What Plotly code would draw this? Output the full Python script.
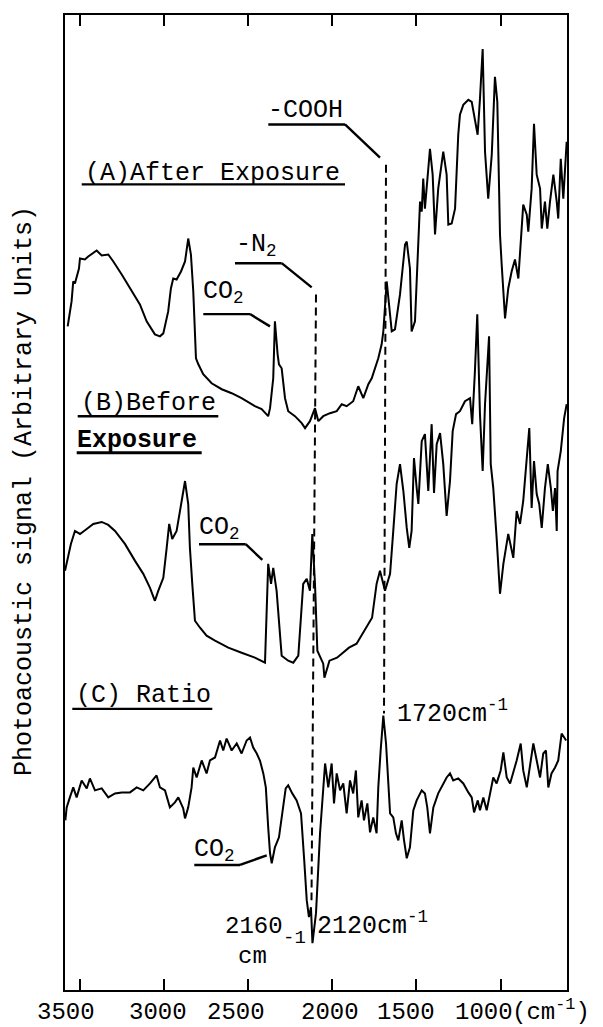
import plotly.graph_objects as go

# ---------------- data (wavenumber in cm^-1, signal in arbitrary units) ----------------
wn_a = [3571, 3548, 3538, 3528, 3504, 3498, 3469, 3449, 3399, 3369, 3330, 3300, 3250, 3191, 3142,
        3102, 3053, 3023, 3003, 2974, 2958, 2944, 2924, 2898, 2874, 2855, 2839, 2825, 2815, 2809,
        2795, 2766, 2716, 2656, 2597, 2538, 2459, 2419, 2380, 2369, 2350, 2340, 2324, 2316, 2300,
        2280, 2261, 2221, 2181, 2161, 2132, 2102, 2082, 2053, 2013, 1973, 1943, 1914, 1875, 1845,
        1815, 1785, 1765, 1746, 1726, 1706, 1696, 1676, 1646, 1627, 1597, 1567, 1557, 1538, 1528,
        1508, 1488, 1478, 1468, 1459, 1449, 1439, 1419, 1403, 1389, 1370, 1349, 1340, 1320, 1310,
        1290, 1270, 1251, 1241, 1221, 1191, 1171, 1152, 1136, 1122, 1106, 1092, 1073, 1052, 1033,
        1019, 1003, 993, 973, 954, 934, 914, 894, 865, 844, 835, 815, 801, 785, 765, 755, 736,
        722, 706, 686, 666, 657, 642, 627, 607]
sig_a = [66.5, 69.0, 71.0, 70.8, 72.3, 73.3, 73.2, 73.5, 74.1, 73.6, 73.7, 73.0, 71.7, 70.0, 68.7,
         67.0, 65.7, 65.5, 65.8, 68.0, 70.3, 71.3, 71.2, 72.0, 73.0, 75.3, 73.7, 70.0, 65.7, 63.3,
         62.7, 61.7, 60.8, 60.2, 59.8, 59.3, 58.5, 58.2, 57.5, 58.3, 61.3, 67.0, 63.7, 62.7, 62.3,
         59.3, 58.0, 57.5, 56.8, 56.3, 57.0, 58.3, 57.0, 57.5, 57.8, 58.0, 58.7, 58.5, 59.0, 60.5,
         59.3, 60.7, 61.3, 62.2, 63.3, 64.7, 66.0, 71.0, 66.0, 66.2, 69.7, 74.7, 75.0, 72.3, 66.0,
         67.0, 75.7, 79.0, 78.0, 81.3, 78.3, 80.3, 84.3, 81.7, 75.7, 80.3, 83.0, 84.0, 81.7, 76.7,
         76.8, 78.3, 85.7, 87.7, 88.7, 89.2, 89.0, 87.3, 85.7, 89.3, 94.3, 84.0, 79.3, 83.7, 91.5,
         89.0, 75.7, 72.7, 67.3, 70.3, 72.0, 73.2, 71.3, 78.7, 77.7, 76.0, 80.3, 86.8, 81.7, 80.3,
         76.3, 79.0, 76.3, 79.0, 81.7, 79.0, 77.3, 83.3, 79.3, 85.0]

wn_b = [3587, 3571, 3552, 3528, 3498, 3458, 3419, 3369, 3330, 3290, 3231, 3171, 3122, 3082, 3053,
        3033, 3003, 2983, 2968, 2950, 2924, 2894, 2874, 2855, 2845, 2831, 2815, 2785, 2746, 2696,
        2617, 2538, 2459, 2399, 2380, 2363, 2350, 2330, 2300, 2261, 2231, 2201, 2172, 2151, 2132,
        2118, 2102, 2088, 2053, 2046, 2016, 1971, 1900, 1855, 1811, 1763, 1736, 1716, 1686, 1656,
        1637, 1617, 1597, 1577, 1557, 1542, 1528, 1514, 1498, 1488, 1468, 1449, 1429, 1409, 1395,
        1379, 1359, 1340, 1320, 1300, 1284, 1264, 1241, 1211, 1181, 1168, 1152, 1138, 1122, 1106,
        1092, 1068, 1058, 1043, 1023, 1003, 983, 954, 924, 904, 884, 865, 844, 829, 815, 801,
        785, 770, 755, 736, 719, 701, 689, 676, 666, 661, 642, 622, 607]
sig_b = [42.0, 43.3, 44.7, 46.0, 45.7, 46.2, 46.7, 46.9, 46.6, 46.0, 44.7, 43.0, 41.7, 40.3, 39.0,
         40.0, 41.3, 44.3, 46.7, 45.2, 46.0, 49.0, 51.0, 48.7, 44.3, 40.7, 37.0, 36.3, 35.5, 35.0,
         34.3, 33.8, 33.3, 32.8, 42.7, 40.7, 42.3, 40.0, 33.5, 33.0, 32.8, 33.5, 40.7, 41.2, 40.0,
         45.7, 40.7, 34.0, 32.7, 31.3, 33.0, 33.3, 34.3, 34.7, 36.0, 37.3, 40.7, 42.0, 40.0, 41.7,
         46.0, 50.7, 52.7, 50.0, 46.3, 44.3, 46.0, 53.3, 50.3, 48.7, 55.0, 55.7, 50.0, 56.7, 49.8,
         54.7, 55.8, 52.7, 47.5, 51.0, 56.0, 57.7, 58.0, 59.0, 59.3, 56.7, 62.0, 67.7, 57.7, 52.0,
         58.7, 65.5, 52.7, 50.3, 45.3, 39.7, 42.7, 45.7, 43.3, 48.0, 46.7, 49.0, 53.3, 56.3, 48.3,
         53.0, 49.7, 48.7, 46.3, 50.3, 52.7, 50.3, 48.0, 50.3, 46.0, 52.0, 54.0, 57.3, 58.7]

wn_c = [3585, 3577, 3558, 3538, 3518, 3488, 3458, 3439, 3409, 3369, 3330, 3290, 3250, 3201, 3161,
        3122, 3082, 3043, 3023, 2993, 2964, 2934, 2914, 2885, 2874, 2855, 2835, 2825, 2805, 2775,
        2746, 2726, 2696, 2666, 2647, 2627, 2597, 2567, 2538, 2508, 2488, 2469, 2448, 2429, 2409,
        2394, 2380, 2369, 2359, 2340, 2316, 2296, 2276, 2261, 2237, 2211, 2185, 2166, 2151, 2138,
        2126, 2117, 2096, 2072, 2053, 2042, 2023, 2003, 1989, 1973, 1953, 1934, 1914, 1894, 1875,
        1859, 1845, 1825, 1811, 1791, 1775, 1756, 1736, 1726, 1712, 1696, 1680, 1666, 1656, 1637,
        1621, 1607, 1587, 1573, 1557, 1538, 1518, 1498, 1468, 1449, 1435, 1419, 1399, 1370, 1340,
        1320, 1300, 1281, 1251, 1221, 1191, 1171, 1157, 1135, 1122, 1102, 1082, 1062, 1043, 1023,
        999, 983, 963, 943, 920, 904, 880, 865, 844, 825, 805, 785, 765, 746, 730, 716, 697, 676,
        657, 637, 610]
sig_c = [17.0, 18.3, 19.3, 20.3, 19.3, 21.0, 20.2, 21.2, 20.0, 20.2, 19.3, 19.7, 19.8, 19.8, 20.3,
         20.0, 20.7, 21.5, 20.3, 20.0, 18.3, 18.8, 19.3, 18.2, 17.2, 18.3, 20.3, 22.3, 21.3, 23.0,
         21.7, 23.0, 23.3, 25.0, 24.0, 25.2, 24.0, 24.7, 23.7, 25.0, 25.3, 24.3, 23.7, 23.0, 21.7,
         20.3, 16.3, 13.7, 12.7, 14.3, 15.3, 17.7, 20.2, 20.5, 19.7, 19.0, 17.7, 13.0, 9.0, 7.3,
         8.3, 4.7, 7.7, 15.7, 19.7, 22.7, 20.3, 22.7, 18.7, 21.7, 20.0, 20.7, 17.7, 21.0, 19.7,
         22.0, 17.3, 19.0, 17.0, 18.7, 15.8, 17.3, 15.7, 20.3, 24.0, 27.5, 24.7, 20.3, 17.7, 17.3,
         15.7, 15.0, 17.0, 15.0, 13.2, 14.3, 18.0, 19.0, 20.0, 19.7, 18.3, 15.7, 18.3, 19.7, 20.7,
         21.3, 21.7, 21.0, 21.2, 20.7, 19.8, 19.3, 17.8, 19.0, 18.0, 19.3, 18.0, 19.7, 21.3, 20.7,
         22.0, 23.8, 21.3, 20.7, 22.0, 23.0, 24.7, 22.0, 20.3, 22.3, 24.7, 23.0, 21.3, 23.7, 24.0,
         20.3, 21.7, 22.3, 23.0, 25.7, 25.0]

tick_values = [3500, 3000, 2500, 2000, 1500, 1000]
tick_labels = ["3500", "3000", "2500", "2000", "1500", "1000"]

# ---------------- layout geometry (page pixels; the page body adds an 8 px margin) ----------------
PAGE_W, PAGE_H = 603, 1027
OFF = 8
W, H = PAGE_W - OFF, PAGE_H - OFF
PLOT_L, PLOT_R, PLOT_T, PLOT_B = 65, 567, 13, 990     # frame edges on the page
L, T = PLOT_L - OFF, PLOT_T - OFF
R, B = W - (PLOT_R - OFF), H - (PLOT_B - OFF)
PW, PH = PLOT_R - PLOT_L, PLOT_B - PLOT_T
X_RANGE = [3587, 605]
Y_RANGE = [0, 97.7]

MONO = "Liberation Mono"


def px(x):
    return (x - PLOT_L) / PW


def py(y):
    return (PLOT_B - y) / PH


fig = go.Figure()
for wn, sig in [(wn_a, sig_a), (wn_b, sig_b), (wn_c, sig_c)]:
    fig.add_trace(go.Scatter(x=wn, y=sig, mode="lines",
                             line=dict(color="black", width=2),
                             hoverinfo="skip", showlegend=False))

shapes = []


def seg(x0, y0, x1, y1, width=2.4, dash="solid"):
    shapes.append(dict(type="line", xref="paper", yref="paper",
                       x0=px(x0), y0=py(y0), x1=px(x1), y1=py(y1),
                       line=dict(color="black", width=width, dash=dash)))


# underlines and leader lines
seg(81.7, 182.7, 345, 182.7)                      # (A) After Exposure
seg(268.3, 122.7, 345, 122.7); seg(345, 122.7, 380, 156)     # -COOH
seg(235, 261.7, 281.7, 261.7); seg(281.7, 261.7, 311.7, 286)  # -N2
seg(203.3, 312.7, 250, 312.7); seg(250, 312.7, 270, 325)     # CO2 (A)
seg(77.7, 415, 218.3, 415)                         # (B) Before
seg(76.7, 451.7, 201.7, 451.7, width=3)            # Exposure
seg(199, 543.3, 245.7, 543.3); seg(245.7, 543.3, 262.3, 559)  # CO2 (B)
seg(72.3, 708.3, 212.3, 708.3)                     # (C) Ratio
seg(194.3, 864.7, 240, 864.7); seg(240, 864.7, 266.7, 855)   # CO2 (C)
# dashed guides
seg(386, 163, 384, 713, width=2, dash="8px,5px")
seg(316, 293, 311.5, 900, width=2, dash="8px,5px")

annotations = []


def label(text, x, y, size=25, anchor="left"):
    annotations.append(dict(text=text, xref="paper", yref="paper", x=px(x), y=py(y),
                            xanchor=anchor, yanchor="middle", showarrow=False,
                            font=dict(family=MONO, size=size, color="black")))


label("(A)After Exposure", 83, 172)
label("-COOH", 266, 109)
label("-N<sub>2</sub>", 234, 244)
label("CO<sub>2</sub>", 201, 291)
label("(B)Before", 79, 402)
label("<b>Exposure</b>", 75, 439)
label("CO<sub>2</sub>", 197, 528)
label("(C) Ratio", 74, 695)
label("CO<sub>2</sub>", 192, 850)
label("1720cm<sup>-1</sup>", 395, 711)
label("2120cm<sup>-1</sup>", 315, 924)
label("2160", 223, 926, size=24)
label("cm", 236, 956, size=24)
label("-1", 281, 938, size=19)

# axis tick labels (placed under the ticks, nudged as in the original)
label_shift = [-14, -6, -12, -2, -10, -17]
for v, t, s in zip(tick_values, tick_labels, label_shift):
    annotations.append(dict(text=t, xref="x", yref="paper", x=v, y=py(1013),
                            xshift=s, xanchor="center", yanchor="middle", showarrow=False,
                            font=dict(family=MONO, size=24, color="black")))
label("(cm<sup>-1</sup>)", 510, 1011, size=24)

# y-axis title
annotations.append(dict(text="Photoacoustic signal (Arbitrary Units)", xref="paper", yref="paper",
                        x=px(24), y=py(490), textangle=-90, xanchor="center", yanchor="middle",
                        showarrow=False, font=dict(family=MONO, size=25, color="black")))

fig.update_layout(
    width=W, height=H, autosize=False,
    margin=dict(l=L, r=R, t=T, b=B, pad=0),
    paper_bgcolor="white", plot_bgcolor="white",
    xaxis=dict(range=X_RANGE, tickvals=tick_values, showticklabels=False,
               ticks="inside", ticklen=11, tickwidth=2, tickcolor="black",
               showline=True, linecolor="black", linewidth=2, mirror="ticks",
               showgrid=False, zeroline=False),
    yaxis=dict(range=Y_RANGE, showticklabels=False, ticks="",
               showline=True, linecolor="black", linewidth=2, mirror=True,
               showgrid=False, zeroline=False),
    shapes=shapes, annotations=annotations,
)

fig.write_html("out.html")
